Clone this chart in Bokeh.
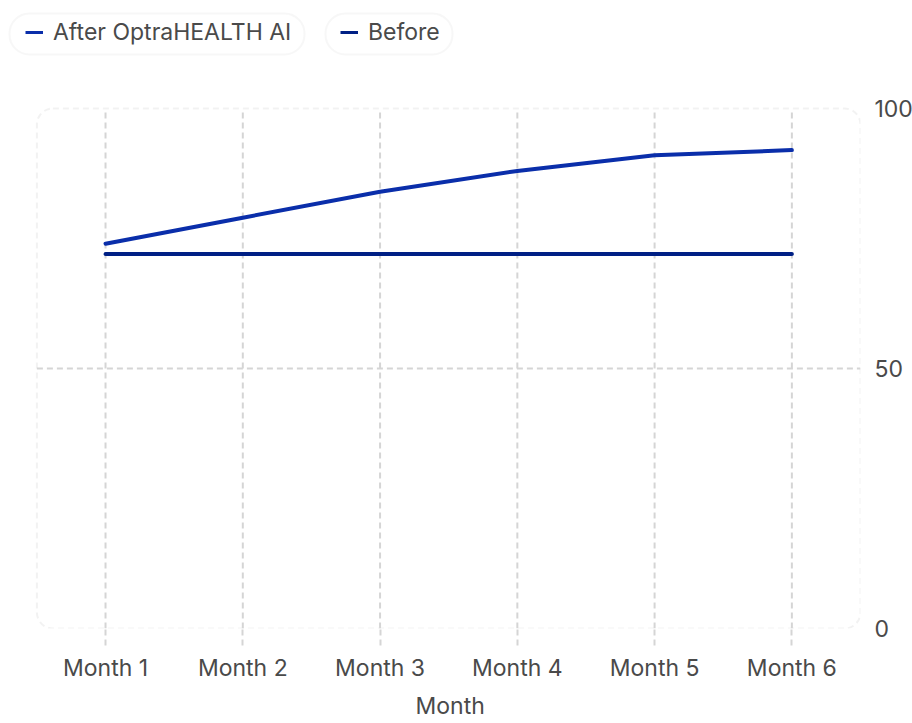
from bokeh.plotting import figure
from bokeh.models import (Range1d, LinearAxis, FixedTicker, Legend, LegendItem,
                          BoxAnnotation, ColumnDataSource, Title)
from bokeh.embed import file_html
from bokeh.resources import INLINE

months = ["Month 1", "Month 2", "Month 3", "Month 4", "Month 5", "Month 6"]
after_vals = [74, 79, 84, 88, 91, 92]
before_vals = [72, 72, 72, 72, 72, 72]
y_ticks = [0, 50, 100]
series_names = ["After OptraHEALTH AI", "Before"]
x_title = "Month"
colors = ["#0a2eaa", "#002085"]

FONT = "Inter"
TXT = "#4a4a4a"
GRID = "#d5d5d5"
FS = "23px"

# layout geometry (pixels)
FRAME_L, FRAME_R = 5, 860          # frame spans these canvas x
PLOT_L = 36.4                       # left edge of the category area
FRAME_H = 628                       # frame from canvas top to the y=0 line
PLOT_TOP = 108                      # canvas y of value 100
X_TITLE_LEFT = 415                  # canvas x where the x-axis title starts

n = len(months)
idx = list(range(n))
x_lo, x_hi = -0.5, n - 0.5
px_per_x = (FRAME_R - PLOT_L) / (x_hi - x_lo)
px_per_y = (FRAME_H - PLOT_TOP) / (y_ticks[-1] - y_ticks[0])
x_start = x_lo - (PLOT_L - FRAME_L) / px_per_x
y_end = y_ticks[-1] + PLOT_TOP / px_per_y

def dx(px):  # canvas x -> data x
    return x_lo + (px - PLOT_L) / px_per_x

def dy(py):  # canvas y -> data y
    return (FRAME_H - py) / px_per_y

p = figure(x_range=Range1d(x_start, x_hi), y_range=Range1d(y_ticks[0], y_end),
           frame_width=FRAME_R - FRAME_L, frame_height=FRAME_H,
           min_border_left=FRAME_L, min_border_top=0, min_border_bottom=95, min_border_right=2,
           output_backend="svg", toolbar_location=None,
           x_axis_location="below", y_axis_location=None)
p.outline_line_color = None
p.background_fill_color = "white"
p.border_fill_color = "white"
p.xgrid.visible = False
p.ygrid.visible = False

# dashed grid inside the value area
p.segment(x0=idx, y0=[y_ticks[0]] * n, x1=idx, y1=[y_ticks[-1]] * n,
          line_color=GRID, line_width=2, line_dash="6 4")
mid = y_ticks[1:-1]
p.segment(x0=[x_lo] * len(mid), y0=mid, x1=[x_hi] * len(mid), y1=mid,
          line_color=GRID, line_width=2, line_dash="6 4")

# rounded dashed border of the value area
p.add_layout(BoxAnnotation(left=x_lo, right=x_hi, bottom=y_ticks[0], top=y_ticks[-1],
                           fill_alpha=0, line_color=GRID, line_width=2, line_dash="6 4",
                           border_radius=16))

src = ColumnDataSource(dict(x=idx, after=after_vals, before=before_vals))
p.line("x", "after", source=src, line_color=colors[0], line_width=4, line_cap="round", line_join="round")
p.line("x", "before", source=src, line_color=colors[1], line_width=4, line_cap="round", line_join="round")

# legend pills
nan = float("nan")
proxies = [p.line(x=[nan], y=[nan], line_color=c, line_width=3) for c in colors]
for (l, r) in [(9, 304), (325, 452)]:
    p.add_layout(BoxAnnotation(left=dx(l), right=dx(r), top=dy(13), bottom=dy(54),
                               fill_color="white", fill_alpha=1, line_color="#e4e4e4",
                               line_width=2, border_radius=20))
for name, rend, lx in zip(series_names, proxies, [25, 340]):
    p.add_layout(Legend(items=[LegendItem(label=name, renderers=[rend])],
                        orientation="horizontal", location=(lx - FRAME_L, FRAME_H - 33.5 - 12),
                        padding=0, margin=0, spacing=0,
                        glyph_width=18, glyph_height=24, label_height=24, label_standoff=10,
                        label_text_font=FONT, label_text_font_size=FS, label_text_color=TXT,
                        border_line_color=None, background_fill_alpha=0), "center")

# x axis
xa = p.xaxis[0]
xa.ticker = FixedTicker(ticks=idx)
xa.major_label_overrides = {i: m for i, m in zip(idx, months)}
xa.axis_line_color = None
xa.minor_tick_line_color = None
xa.major_tick_in = 0
xa.major_tick_out = 17
xa.major_tick_line_color = GRID
xa.major_tick_line_width = 2
xa.major_tick_line_dash = "6 4"
xa.major_label_text_font = FONT
xa.major_label_text_font_size = FS
xa.major_label_text_color = TXT
xa.major_label_standoff = 8

# x axis title, centred under the value area
p.add_layout(Title(text=x_title, align="left", offset=X_TITLE_LEFT - FRAME_L, standoff=11,
                   text_font=FONT, text_font_size=FS, text_font_style="normal",
                   text_color=TXT), "below")

# right y axis
ya = LinearAxis(ticker=FixedTicker(ticks=y_ticks))
ya.axis_line_color = None
ya.major_tick_line_color = None
ya.minor_tick_line_color = None
ya.major_label_standoff = 8
ya.major_label_text_font = FONT
ya.major_label_text_font_size = FS
ya.major_label_text_color = TXT
p.add_layout(ya, "right")

open("out.html", "w").write(file_html(p, INLINE))
